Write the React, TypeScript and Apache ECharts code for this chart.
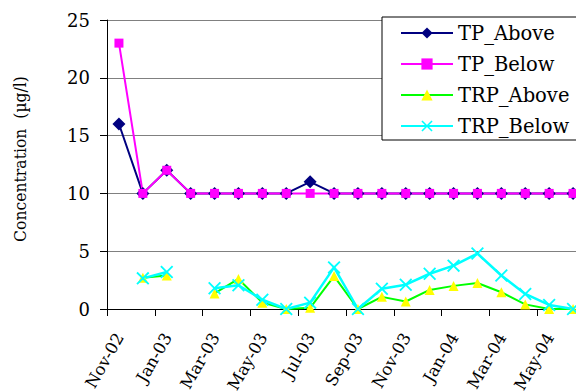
import React, { useEffect, useRef } from "react";
import * as echarts from "echarts";

const months = ["Nov-02","Dec-02","Jan-03","Feb-03","Mar-03","Apr-03","May-03","Jun-03","Jul-03","Aug-03","Sep-03","Oct-03","Nov-03","Dec-03","Jan-04","Feb-04","Mar-04","Apr-04","May-04","Jun-04"];
const tpAbove = [16,10,12,10,10,10,10,10,11,10,10,10,10,10,10,10,10,10,10,10];
const tpBelow = [23,10,12,10,10,10,10,10,10,10,10,10,10,10,10,10,10,10,10,10];
const trpAbove = [null,2.7,2.9,null,1.35,2.6,0.55,0,0.1,2.85,0,1.05,0.65,1.65,2.0,2.25,1.45,0.4,0,0];
const trpBelow = [null,2.65,3.2,null,1.8,2.05,0.8,0,0.55,3.6,0,1.75,2.1,3.05,3.75,4.8,2.9,1.3,0.35,0];
const yTitle = "Concentration  (\u00b5g/l)";

const FONT = "DejaVu Serif";
const X_SYMBOL = "path://M0,1L1,0L5,4L9,0L10,1L6,5L10,9L9,10L5,6L1,10L0,9L4,5Z";

export default function App() {
  const ref = useRef<HTMLDivElement>(null);
  useEffect(() => {
    if (!ref.current) return;
    const chart = echarts.init(ref.current, null, { renderer: "svg" });
    chart.setOption({
      animation: false,
      backgroundColor: "#fff",
      textStyle: { fontFamily: FONT, color: "#000" },
      grid: { left: 107, right: -9, top: 20, bottom: 82, containLabel: false, outerBoundsMode: "none" },
      legend: {
        orient: "vertical",
        left: 382,
        top: 17,
        backgroundColor: "#fff",
        borderColor: "#000",
        borderWidth: 1,
        borderRadius: 0,
        padding: [6, 15, 4, 18],
        itemWidth: 52,
        itemHeight: 14,
        itemGap: 11,
        textStyle: { fontFamily: FONT, fontSize: 19.5, color: "#000" },
        data: ["TP_Above", "TP_Below", "TRP_Above", "TRP_Below"],
      },
      xAxis: {
        type: "category",
        data: months,
        boundaryGap: true,
        axisLine: { lineStyle: { color: "#000", width: 1 } },
        axisTick: { show: true, interval: 1, length: 7, inside: false, alignWithLabel: false, lineStyle: { color: "#000" } },
        axisLabel: {
          interval: 1,
          rotate: 60,
          margin: 10,
          align: "right",
          verticalAlign: "top",
          padding: [0, 13, 0, 0],
          fontFamily: FONT,
          fontSize: 16.5,
          color: "#000",
        },
        splitLine: { show: false },
      },
      yAxis: {
        type: "value",
        min: 0,
        max: 25,
        interval: 5,
        axisLine: { show: true, lineStyle: { color: "#000", width: 1 } },
        axisTick: { show: true, length: 7, inside: false, lineStyle: { color: "#000" } },
        axisLabel: { margin: 17, fontFamily: FONT, fontSize: 18, color: "#000" },
        splitLine: { show: true, lineStyle: { color: "#808080", width: 1 } },
      },
      graphic: [
        {
          type: "text",
          x: 20,
          y: 159,
          rotation: Math.PI / 2,
          scaleX: 0.92,
          style: {
            text: yTitle,
            font: "17px " + FONT,
            fontFamily: FONT,
            fontSize: 17,
            fill: "#000",
            align: "center",
            verticalAlign: "middle",
          },
        },
      ],
      series: [
        {
          name: "TP_Above",
          type: "line",
          data: tpAbove,
          symbol: "diamond",
          symbolSize: 13,
          showAllSymbol: true,
          itemStyle: { color: "#000080" },
          lineStyle: { color: "#000080", width: 2 },
        },
        {
          name: "TP_Below",
          type: "line",
          data: tpBelow,
          symbol: "rect",
          symbolSize: 9,
          showAllSymbol: true,
          itemStyle: { color: "#FF00FF" },
          lineStyle: { color: "#FF00FF", width: 2 },
        },
        {
          name: "TRP_Above",
          type: "line",
          data: trpAbove,
          symbol: "triangle",
          symbolSize: 10,
          showAllSymbol: true,
          connectNulls: false,
          itemStyle: { color: "#FFFF00" },
          lineStyle: { color: "#00FF00", width: 2 },
        },
        {
          name: "TRP_Below",
          type: "line",
          data: trpBelow,
          symbol: X_SYMBOL,
          symbolSize: 13,
          showAllSymbol: true,
          connectNulls: false,
          itemStyle: { color: "#00FFFF" },
          lineStyle: { color: "#00FFFF", width: 2.5 },
        },
      ],
    });
    return () => chart.dispose();
  }, []);
  return (
    <div
      ref={ref}
      style={{ position: "fixed", left: 0, top: 0, width: 576, height: 391 }}
    />
  );
}
